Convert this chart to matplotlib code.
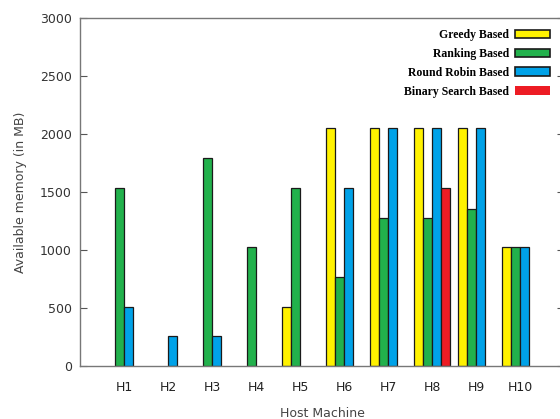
import matplotlib
matplotlib.use("Agg")
import matplotlib.pyplot as plt
import numpy as np

hosts = ["H1", "H2", "H3", "H4", "H5", "H6", "H7", "H8", "H9", "H10"]
greedy = [0, 0, 0, 0, 512, 2048, 2048, 2048, 2048, 1024]
ranking = [1536, 0, 1792, 1024, 1536, 768, 1280, 1280, 1350, 1024]
round_robin = [512, 256, 256, 0, 0, 1536, 2048, 2048, 2048, 1024]
binary_search = [0, 0, 0, 0, 0, 0, 0, 1536, 0, 0]

series = [
    ("Greedy Based", greedy, "#FFF200"),
    ("Ranking Based", ranking, "#22B14C"),
    ("Round Robin Based", round_robin, "#00A2E8"),
    ("Binary Search Based", binary_search, "#ED1C24"),
]

fig = plt.figure(figsize=(5.6, 4.19), dpi=100)
ax = fig.add_axes([80 / 560, 1 - 366 / 419, 484 / 560, 348 / 419])

x = np.arange(1, len(hosts) + 1)
w = 0.205
handles = []
for i, (name, vals, col) in enumerate(series):
    vals = np.asarray(vals, dtype=float)
    keep = vals > 0  # hosts with no memory left get no bar at all
    ax.bar(x[keep] + (i - 1.5) * w, vals[keep], width=w, color=col,
           edgecolor="#1a1a1a", linewidth=0.9)
    edge = "none" if name.startswith("Binary") else "#1a1a1a"
    handles.append(plt.Rectangle((0, 0), 1, 1, facecolor=col,
                                 edgecolor=edge, linewidth=1.2, label=name))

ax.set_xlim(0, 11)
ax.set_ylim(0, 3000)
ax.set_xticks(x)
ax.set_xticklabels(hosts, fontsize=9, color="#222222")
ax.set_yticks(np.arange(0, 3001, 500))
ax.tick_params(axis="y", direction="in", right=True, length=5,
               color="#555555", labelsize=9, labelcolor="#333333", pad=6)
ax.tick_params(axis="x", length=0, pad=11)
for s in ax.spines.values():
    s.set_color("#777777")
    s.set_linewidth(1.0)

ax.set_ylabel("Available memory (in MB)", fontsize=9, color="#444444", labelpad=9)
ax.set_xlabel("Host Machine", fontsize=9, color="#444444", labelpad=9)

ax.legend(handles=handles, loc="upper right",
          bbox_to_anchor=((550 - 80) / 484, (366 - 29) / 348),
          frameon=False, markerfirst=False, handlelength=3.0,
          handleheight=0.7, labelspacing=0.58, handletextpad=0.45,
          borderpad=0, borderaxespad=0,
          prop={"family": "Liberation Serif", "weight": "bold", "size": 8.5})

fig.savefig("out.png", dpi=100)
